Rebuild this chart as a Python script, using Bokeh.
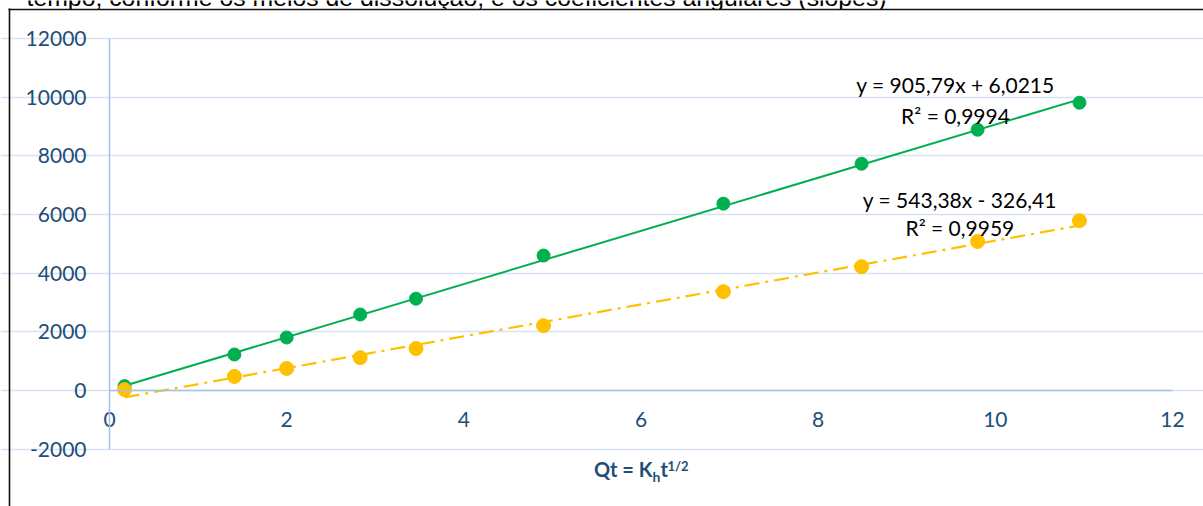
from bokeh.plotting import figure
from bokeh.models import Range1d, Label, LinearAxis, Grid, FixedTicker, BoxAnnotation
from bokeh.embed import file_html
from bokeh.resources import INLINE

# data
x_vals = [0.17, 1.41, 2.0, 2.83, 3.46, 4.90, 6.93, 8.49, 9.80, 10.95]
green_y = [150, 1227, 1806, 2590, 3130, 4600, 6370, 7730, 8890, 9810]
orange_y = [30, 480, 750, 1120, 1430, 2210, 3370, 4220, 5080, 5790]
green_slope, green_intercept = 905.79, 6.0215
orange_slope, orange_intercept = 543.38, -326.41
green_eq = ["y = 905,79x + 6,0215", "R² = 0,9994"]
orange_eq = ["y = 543,38x - 326,41", "R² = 0,9959"]
x_ticks = [0, 2, 4, 6, 8, 10, 12]
y_ticks = [-2000, 0, 2000, 4000, 6000, 8000, 10000, 12000]
caption = "tempo, conforme os meios de dissolução, e os coeficientes angulares (slopes)"

GREEN = "#00B050"
ORANGE = "#FFC000"
TICK = "#1F4E79"
FONT = "Lato"

# whole canvas is the plot frame
x_lo, x_hi = -1.2305, 12.350
y_lo, y_hi = -3955, 13295
box_x, box_y = -1.1317, 12997      # left / top edge of the surrounding chart box

p = figure(width=1203, height=506, output_backend="svg", toolbar_location=None,
           x_range=Range1d(x_lo, x_hi), y_range=Range1d(y_lo, y_hi),
           x_axis_location=None, y_axis_location=None, min_border=0)
p.outline_line_color = None
p.background_fill_color = "white"
p.xgrid.visible = False
p.ygrid.visible = False

grid = Grid(dimension=1, ticker=FixedTicker(ticks=y_ticks), bounds=(x_ticks[0], x_ticks[-1]),
            grid_line_color="#D5E2F3", grid_line_width=1.5)
p.renderers.append(grid)

xaxis = LinearAxis(fixed_location=0, ticker=FixedTicker(ticks=x_ticks), bounds=(x_ticks[0], x_ticks[-1]))
yaxis = LinearAxis(fixed_location=0, ticker=FixedTicker(ticks=y_ticks), bounds=(y_ticks[0], y_ticks[-1]))
yaxis.major_label_overrides = {t: str(t) for t in y_ticks}
for ax in (xaxis, yaxis):
    ax.axis_line_color = "#A3C1EA"
    ax.axis_line_width = 1.5
    ax.major_tick_line_color = None
    ax.minor_tick_line_color = None
    ax.major_tick_out = 0
    ax.major_tick_in = 0
    ax.major_label_text_font = FONT
    ax.major_label_text_font_size = "21px"
    ax.major_label_text_color = TICK
xaxis.major_label_standoff = 22
yaxis.major_label_standoff = 23
p.add_layout(xaxis, "below")
p.add_layout(yaxis, "left")

# trend lines
x0, x1 = x_vals[0], x_vals[-1]
p.line([x0, x1], [green_slope * x0 + green_intercept, green_slope * x1 + green_intercept],
       line_color=GREEN, line_width=2)
p.line([x0, x1], [orange_slope * x0 + orange_intercept, orange_slope * x1 + orange_intercept],
       line_color=ORANGE, line_width=2.2, line_dash="15 6 3 6")

p.scatter(x_vals, green_y, size=13, color=GREEN)
p.scatter(x_vals, orange_y, size=14, color=ORANGE)

# caption line of the surrounding document (cut off at the top of the picture)
p.add_layout(Label(x=-0.937, y=13384, text=caption, text_align="left", text_baseline="middle",
                   text_font="Liberation Sans", text_font_size="24.8px", text_color="#000000"))
# the chart box hides the descenders of that line
p.add_layout(BoxAnnotation(left=box_x + 0.012, right=8.9, top=box_y - 30, bottom=box_y - 250,
                           fill_color="white", fill_alpha=1.0, line_color=None))

# chart box edges (left and top) drawn as bare axis lines, on top of everything
for loc, bnds, side in ((box_x, (y_lo - 1000, box_y + 25), "left"), (box_y, (box_x - 0.01, x_hi + 1), "below")):
    b = LinearAxis(fixed_location=loc, ticker=FixedTicker(ticks=[]), bounds=bnds, level="overlay")
    b.axis_line_color = "#111111"
    b.axis_line_width = 1.6
    b.major_tick_line_color = None
    b.minor_tick_line_color = None
    b.major_label_text_font_size = "0px"
    p.add_layout(b, side)

# equation labels
for txt, yy in zip(green_eq, [10426, 9370]):
    p.add_layout(Label(x=9.55, y=yy, text=txt, text_align="center", text_baseline="middle",
                       text_font=FONT, text_font_size="21px", text_color="#000000"))
for txt, yy in zip(orange_eq, [6508, 5560]):
    p.add_layout(Label(x=9.6, y=yy, text=txt, text_align="center", text_baseline="middle",
                       text_font=FONT, text_font_size="21px", text_color="#000000"))

# axis title  Qt = K_h t^(1/2)
ty = -2693
bold = dict(text_font=FONT, text_font_style="bold", text_color=TICK, text_baseline="middle")
p.add_layout(Label(x=6, y=ty, x_offset=11.5, text="Qt = K", text_align="right", text_font_size="20px", **bold))
p.add_layout(Label(x=6, y=ty, x_offset=11.5, y_offset=-7.5, text="h", text_align="left", text_font_size="14px", **bold))
p.add_layout(Label(x=6, y=ty, x_offset=19.5, text="t", text_align="left", text_font_size="20px", **bold))
p.add_layout(Label(x=6, y=ty, x_offset=26.5, y_offset=3, text="1/2", text_align="left", text_font_size="13px", **bold))

open("out.html", "w").write(file_html(p, INLINE))
